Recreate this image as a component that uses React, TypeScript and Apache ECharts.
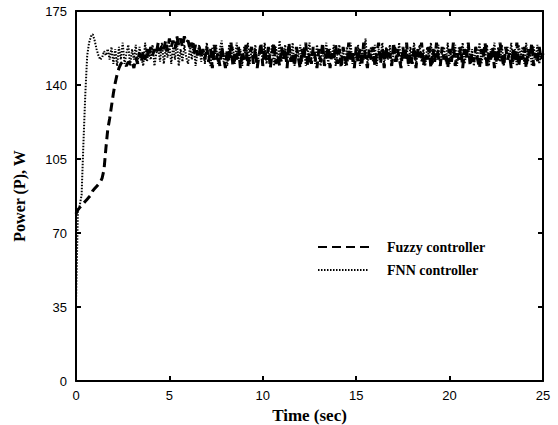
import React, { useEffect, useRef } from "react";
import * as echarts from "echarts";

// sample period of both recorded signals (s)
const sampleStep = 0.1;

const fuzzyPower: number[] = [
  79, 81, 82, 83, 84, 85, 86, 87, 88, 90,
  91, 92, 93, 94, 96, 100, 110, 119, 124, 130,
  136, 141, 145, 148, 150, 151, 150, 149, 151, 150,
  151, 148, 153, 150, 155, 151, 156, 152, 157, 153,
  158, 154, 157, 155, 160, 156, 159, 157, 161, 156,
  162, 158, 161, 157, 163, 159, 162, 158, 163, 160,
  161, 157, 160, 155, 159, 154, 158, 153, 157, 152,
  158, 151, 157, 148, 159, 152, 155, 149, 158, 153,
  148, 157, 151, 160, 149, 155, 152, 158, 148, 156,
  152, 159, 149, 155, 158, 150, 157, 148, 154, 160,
  149, 157, 152, 158, 148, 155, 160, 150, 154, 149,
  158, 152, 157, 148, 160, 151, 155, 149, 158, 153,
  148, 157, 152, 160, 149, 155, 150, 158, 153, 148,
  157, 151, 160, 149, 154, 158, 148, 155, 152, 159,
  150, 157, 148, 158, 153, 149, 160, 152, 155, 148,
  158, 151, 157, 149, 160, 153, 148, 157, 152, 158,
  149, 155, 160, 150, 157, 148, 158, 152, 155, 149,
  160, 151, 157, 153, 148, 158, 152, 160, 149, 155,
  150, 158, 148, 157, 153, 160, 149, 155, 152, 158,
  148, 157, 151, 160, 153, 149, 158, 152, 155, 148,
  157, 151, 160, 149, 155, 152, 158, 148, 157, 153,
  160, 149, 155, 151, 158, 152, 148, 157, 153, 160,
  149, 155, 152, 158, 148, 157, 151, 160, 153, 149,
  158, 152, 155, 148, 157, 151, 160, 149, 155, 152,
  158, 148, 157, 153, 160, 149, 155, 151, 158, 152, 155,
];

const fnnPower: number[] = [
  37, 80, 83, 88, 113, 136, 154, 160, 163, 164,
  161, 157, 154, 152, 153, 156, 154, 157, 152, 158,
  150, 157, 149, 158, 152, 160, 150, 155, 159, 149,
  157, 152, 159, 150, 158, 153, 149, 160, 151, 157,
  152, 159, 149, 155, 158, 151, 160, 150, 157, 153,
  159, 150, 158, 152, 161, 149, 157, 151, 159, 153,
  150, 158, 152, 160, 149, 155, 159, 151, 157, 150,
  160, 153, 149, 158, 152, 159, 150, 157, 161, 151,
  155, 149, 159, 153, 158, 150, 160, 152, 157, 149,
  158, 153, 160, 150, 157, 152, 159, 149, 155, 158,
  151, 160, 150, 157, 153, 159, 149, 158, 152, 161,
  151, 155, 159, 150, 158, 152, 160, 149, 157, 153,
  159, 151, 158, 149, 155, 160, 152, 157, 150, 159,
  153, 149, 158, 152, 160, 150, 157, 153, 159, 149,
  155, 159, 151, 157, 149, 158, 153, 160, 150, 155,
  152, 159, 149, 157, 152, 162, 150, 155, 158, 151,
  159, 149, 157, 153, 160, 150, 158, 152, 159, 149,
  155, 158, 151, 160, 150, 157, 153, 159, 149, 158,
  152, 160, 150, 155, 159, 151, 157, 149, 158, 153,
  160, 150, 157, 152, 159, 149, 155, 158, 151, 160,
  150, 157, 153, 159, 149, 158, 152, 160, 150, 155,
  159, 151, 157, 149, 158, 153, 160, 150, 155, 152,
  159, 149, 157, 153, 160, 150, 158, 151, 159, 149,
  155, 158, 152, 160, 150, 157, 149, 159, 153, 158,
  150, 160, 151, 157, 149, 158, 152, 159, 150, 155, 152,
];

const seriesNames = ["Fuzzy controller", "FNN controller"];
const xTitle = "Time (sec)";
const yTitle = "Power (P), W";

const toPairs = (vals: number[]) =>
  vals.map((v, i) => [Number((i * sampleStep).toFixed(2)), v]);

export default function App() {
  const ref = useRef<HTMLDivElement>(null);
  useEffect(() => {
    if (!ref.current) return;
    const chart = echarts.init(ref.current, null, { renderer: "svg" });
    const sans = "Liberation Sans";
    const serif = "Liberation Serif";
    const axisLine = { show: true, onZero: false, lineStyle: { color: "#000", width: 2 } };
    const tick = { show: true, inside: true, length: 5, lineStyle: { color: "#000", width: 2 } };
    chart.setOption({
      animation: false,
      backgroundColor: "#fff",
      grid: { left: 76, right: 15, top: 11, bottom: 44, outerBoundsMode: "none", containLabel: false },
      legend: {
        orient: "vertical",
        left: 312,
        top: 235,
        itemWidth: 51,
        itemHeight: 14,
        itemGap: 9,
        itemStyle: { opacity: 0 },
        textStyle: {
          fontFamily: serif,
          fontWeight: "bold",
          fontSize: 14,
          color: "#000",
          padding: [0, 0, 0, 13],
        },
        data: seriesNames,
      },
      xAxis: [
        {
          type: "value",
          min: 0,
          max: 25,
          interval: 5,
          name: xTitle,
          nameLocation: "middle",
          nameGap: 20,
          nameTextStyle: { fontFamily: serif, fontWeight: "bold", fontSize: 17, color: "#000" },
          axisLine,
          axisTick: tick,
          splitLine: { show: false },
          axisLabel: { fontFamily: sans, fontSize: 13, color: "#000", margin: 8 },
        },
        {
          type: "value",
          position: "top",
          min: 0,
          max: 25,
          interval: 5,
          axisLine,
          axisTick: tick,
          splitLine: { show: false },
          axisLabel: { show: false },
        },
      ],
      yAxis: [
        {
          type: "value",
          min: 0,
          max: 175,
          interval: 35,
          name: yTitle,
          nameLocation: "middle",
          nameGap: 49,
          nameTextStyle: { fontFamily: serif, fontWeight: "bold", fontSize: 16, color: "#000" },
          axisLine,
          axisTick: tick,
          splitLine: { show: false },
          axisLabel: { fontFamily: sans, fontSize: 13, color: "#000", margin: 9 },
        },
        {
          type: "value",
          position: "right",
          min: 0,
          max: 175,
          interval: 35,
          axisLine,
          axisTick: tick,
          splitLine: { show: false },
          axisLabel: { show: false },
        },
      ],
      series: [
        {
          name: seriesNames[0],
          type: "line",
          data: toPairs(fuzzyPower),
          showSymbol: false,
          symbol: "none",
          color: "#000",
          lineStyle: { color: "#000", width: 3, type: [9, 5] },
        },
        {
          name: seriesNames[1],
          type: "line",
          data: toPairs(fnnPower),
          showSymbol: false,
          symbol: "none",
          color: "#000",
          lineStyle: { color: "#000", width: 2, type: [1.5, 1.5] },
        },
      ],
    });
    return () => chart.dispose();
  }, []);
  return <div ref={ref} style={{ width: 558, height: 425, position: "absolute", left: 0, top: 0 }} />;
}
